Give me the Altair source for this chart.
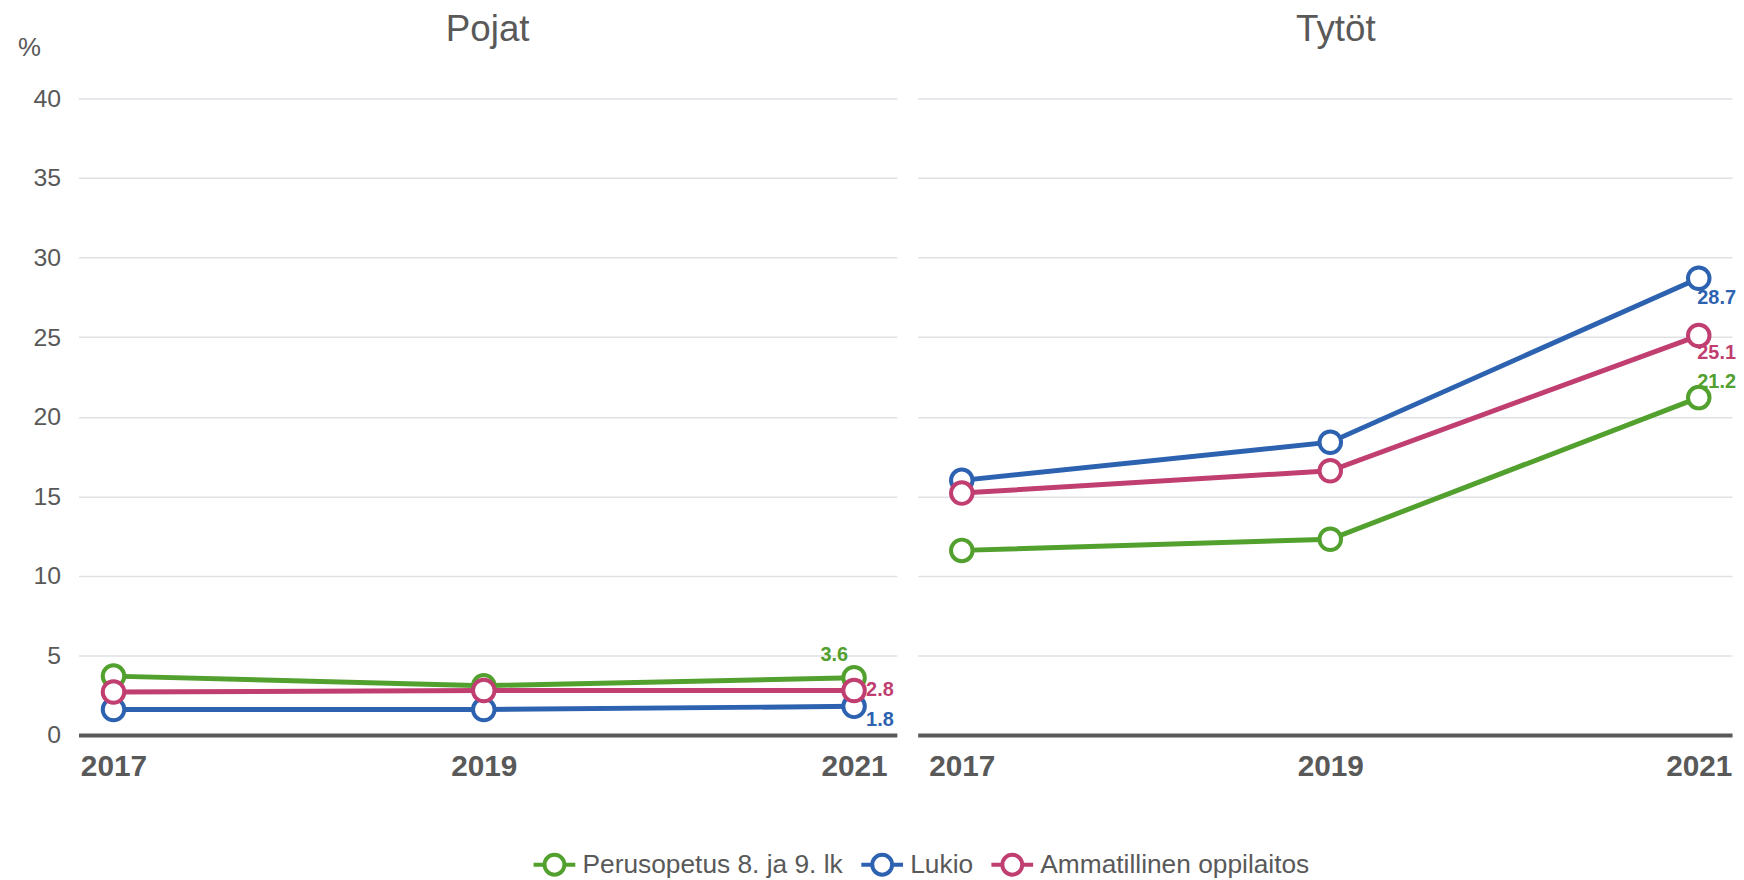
import altair as alt
import pandas as pd

FONT = "Liberation Sans"
GRAY = "#595959"
GRID = "#dfe1e5"

years = ["2017", "2019", "2021"]
series = ["Perusopetus 8. ja 9. lk", "Lukio", "Ammatillinen oppilaitos"]
colors = ["#52a02e", "#2c62b0", "#c03e70"]
panels = ["Pojat", "Tytöt"]
unit_label = "%"

pojat_perusopetus = [3.7, 3.1, 3.6]
pojat_lukio = [1.6, 1.6, 1.8]
pojat_ammatillinen = [2.7, 2.8, 2.8]

tytot_perusopetus = [11.6, 12.3, 21.2]
tytot_lukio = [16.0, 18.4, 28.7]
tytot_ammatillinen = [15.2, 16.6, 25.1]

y_ticks = [0, 5, 10, 15, 20, 25, 30, 35, 40]

values = {
    "Pojat": [pojat_perusopetus, pojat_lukio, pojat_ammatillinen],
    "Tytöt": [tytot_perusopetus, tytot_lukio, tytot_ammatillinen],
}
rows = []
for p in panels:
    for s, vals in zip(series, values[p]):
        for yr, v in zip(years, vals):
            rows.append({"panel": p, "series": s, "year": yr, "value": v})
df = pd.DataFrame(rows)

# label offsets (dx, dy) for the 2021 end labels, per panel and series
label_offsets = {
    "Pojat": [(-20, -23), (26, 14), (26, 0)],
    "Tytöt": [(18, -16), (18, 20), (18, 18)],
}

legend_symbol = "M-2.1,0L-1,0M1,0L2.1,0M-1,0A1,1,0,1,1,1,0A1,1,0,1,1,-1,0Z"


def panel(name, width, show_y, align, title_dx):
    d = df[df.panel == name]
    x = alt.X(
        "year:O",
        scale=alt.Scale(type="point", padding=0.105, align=align),
        axis=alt.Axis(
            title=None, labelAngle=0, labelFontWeight="bold", labelFontSize=30,
            labelColor=GRAY, labelFont=FONT, domainColor=GRAY, domainWidth=4,
            ticks=False, labelPadding=17, grid=False,
        ),
    )
    if show_y:
        yaxis = alt.Axis(
            values=y_ticks, labelFontSize=25, labelColor=GRAY, labelFont=FONT,
            labelPadding=18, ticks=False, domain=False, gridColor=GRID, gridWidth=1.5,
            title=None,
        )
    else:
        yaxis = alt.Axis(
            values=y_ticks, labels=False, ticks=False, domain=False, title=None,
            gridColor=GRID, gridWidth=1.5,
        )
    y = alt.Y("value:Q", scale=alt.Scale(domain=[0, 40], nice=False), axis=yaxis)
    color = alt.Color(
        "series:N",
        scale=alt.Scale(domain=series, range=colors),
        legend=alt.Legend(
            title=None, orient="none", legendX=466, legendY=758, direction="horizontal",
            labelFontSize=26.5, labelColor=GRAY, labelFont=FONT, symbolType=legend_symbol,
            symbolSize=400, symbolStrokeWidth=4, symbolFillColor="white",
            labelOffset=15, columnPadding=10, symbolOpacity=1, labelLimit=600,
        ),
    )
    base = alt.Chart(d)
    lines = base.mark_line(strokeWidth=5).encode(x=x, y=y, color=color)
    texts = []
    for i, s in enumerate(series):
        dx, dy = label_offsets[name][i]
        t = base.transform_filter(
            (alt.datum.series == s) & (alt.datum.year == years[-1])
        ).mark_text(
            dx=dx, dy=dy, fontWeight="bold", fontSize=20, font=FONT,
            align="center", baseline="middle",
        ).encode(
            x=x, y=y, text=alt.Text("value:Q", format=".1f"), color=alt.value(colors[i])
        )
        texts.append(t)
    points = base.mark_point(
        shape="circle", size=470, strokeWidth=4, filled=False, fill="white", opacity=1
    ).encode(x=x, y=y, color=color)

    title = alt.Chart(pd.DataFrame({"t": [name]})).mark_text(
        fontSize=37, font=FONT, color=GRAY, align="center", baseline="alphabetic"
    ).encode(text="t:N", x=alt.value(width / 2 + title_dx), y=alt.value(-58))
    layers = [lines, *texts, points, title]
    if show_y:
        unit = alt.Chart(pd.DataFrame({"t": [unit_label]})).mark_text(
            fontSize=26, font=FONT, color=GRAY, align="left", baseline="middle"
        ).encode(text="t:N", x=alt.value(-61), y=alt.value(-51))
        layers.append(unit)
    return alt.layer(*layers).properties(width=width, height=641)


chart = alt.hconcat(
    panel("Pojat", 824, True, 0.45, 0),
    panel("Tytöt", 820, False, 0.57, 11),
    spacing=21,
).properties(
    padding={"left": 10, "top": 0, "right": 0, "bottom": 0},
    background="white",
).configure_view(stroke=None)

chart.save("out.html", embed_options={"renderer": "svg", "actions": False})
